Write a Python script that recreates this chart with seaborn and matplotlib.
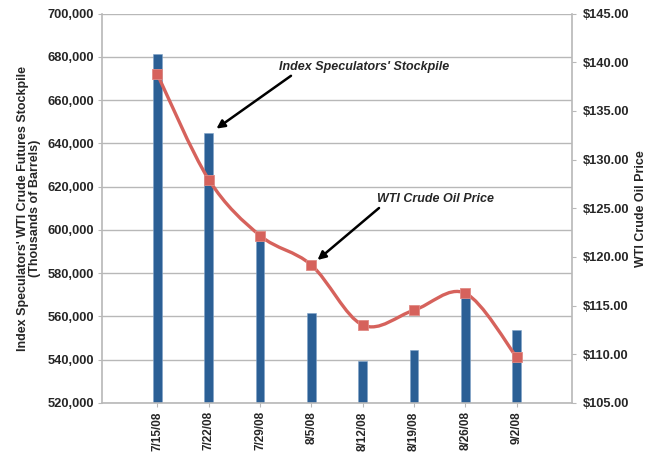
import numpy as np
import pandas as pd
import matplotlib
matplotlib.use("Agg")
import matplotlib.pyplot as plt
from matplotlib.path import Path
from matplotlib.patches import PathPatch
from matplotlib.ticker import FuncFormatter
import seaborn as sns

# data
dates = ["7/15/08", "7/22/08", "7/29/08", "8/5/08", "8/12/08", "8/19/08", "8/26/08", "9/2/08"]
stockpile = [681500, 644800, 597500, 561700, 539500, 544400, 570500, 553700]
wti_price = [138.74, 127.95, 122.19, 119.17, 113.01, 114.53, 116.27, 109.71]

bar_color = "#2B5F95"
line_color = "#D6625C"
grid_color = "#B8B8B8"

sns.set_style("white")
plt.rcParams["font.family"] = ["Liberation Sans", "DejaVu Sans"]

df = pd.DataFrame({"date": dates, "stockpile": stockpile, "price": wti_price})
df["pos"] = np.arange(len(df))

fig = plt.figure(figsize=(6.51, 4.55), dpi=100)
ax = fig.add_axes([0.1567, 0.1143, 0.7220, 0.8560])

# bars on native numeric positions so limits can be set freely
sns.barplot(data=df, x="pos", y="stockpile", native_scale=True, width=0.17,
            color=bar_color, saturation=1, edgecolor="#7FA3C8", linewidth=0.4, ax=ax)
ax.set_ylim(520000, 700000)
ax.set_xlim(-1.08, 8.08)
ax.set_yticks(np.arange(520000, 700001, 20000))
ax.yaxis.set_major_formatter(FuncFormatter(lambda v, p: f"{int(v):,}"))
ax.set_xticks(df["pos"])
ax.set_xticklabels(dates, rotation=90, fontweight="bold", fontsize=8.5)
ax.grid(axis="y", color=grid_color, linewidth=1)
ax.set_axisbelow(True)
for t in ax.get_yticklabels():
    t.set_fontweight("bold")
    t.set_fontsize(9.3)
ax.tick_params(axis="both", length=3, color=grid_color, pad=3)
ax.tick_params(axis="y", left=True)
ax.tick_params(axis="x", bottom=True, pad=3)
ax.set_xlabel("")
ax.set_ylabel("Index Speculators' WTI Crude Futures Stockpile\n(Thousands of Barrels)",
              fontweight="bold", fontsize=9, labelpad=4, linespacing=1.0)
for side in ["left", "bottom"]:
    ax.spines[side].set_color(grid_color)
    ax.spines[side].set_linewidth(1.2)
ax.spines["top"].set_visible(False)
ax.spines["right"].set_visible(False)

ax2 = ax.twinx()
ax2.set_ylim(105, 145)
ax2.set_yticks(np.arange(105, 145.1, 5))
ax2.yaxis.set_major_formatter(FuncFormatter(lambda v, p: f"${v:.2f}"))
for t in ax2.get_yticklabels():
    t.set_fontweight("bold")
    t.set_fontsize(9.3)
ax2.tick_params(axis="y", right=True, length=3, color=grid_color, pad=5)
for side in ["left", "top", "bottom"]:
    ax2.spines[side].set_visible(False)
ax2.spines["right"].set_color(grid_color)
ax2.spines["right"].set_linewidth(1.2)
ax2.set_ylabel("WTI Crude Oil Price", fontweight="bold", fontsize=9, labelpad=4)

# smoothed line: cubic bezier segments through the points (Catmull-Rom style)
xs = df["pos"].to_numpy(dtype=float)
ys = df["price"].to_numpy(dtype=float)
verts = [(xs[0], ys[0])]
codes = [Path.MOVETO]
n = len(xs)
for i in range(n - 1):
    p0 = (xs[max(i - 1, 0)], ys[max(i - 1, 0)])
    p1 = (xs[i], ys[i])
    p2 = (xs[i + 1], ys[i + 1])
    p3 = (xs[min(i + 2, n - 1)], ys[min(i + 2, n - 1)])
    c1 = (p1[0] + (p2[0] - p0[0]) / 6, p1[1] + (p2[1] - p0[1]) / 6)
    c2 = (p2[0] - (p3[0] - p1[0]) / 6, p2[1] - (p3[1] - p1[1]) / 6)
    verts += [c1, c2, p2]
    codes += [Path.CURVE4] * 3
ax2.add_patch(PathPatch(Path(verts, codes), fill=False, edgecolor=line_color, linewidth=2.4,
                        capstyle="round", joinstyle="round"))
sns.scatterplot(data=df, x="pos", y="price", marker="s", s=60, color=line_color,
                edgecolor="#E08A85", linewidth=0.6, ax=ax2, zorder=5, legend=False)
ax2.set_xlabel("")

# annotations
ax.annotate("Index Speculators' Stockpile", xy=(1.15, 646800), xytext=(4.02, 675500),
            fontsize=9, fontweight="bold", fontstyle="italic", ha="center", va="center",
            arrowprops=dict(arrowstyle="-|>", color="black", lw=1.8, mutation_scale=12,
                            shrinkA=0, shrinkB=0, relpos=(0.1, 0.0)),
            zorder=10)
ax.annotate("WTI Crude Oil Price", xy=(3.12, 586100), xytext=(5.42, 614400),
            fontsize=9, fontweight="bold", fontstyle="italic", ha="center", va="center",
            arrowprops=dict(arrowstyle="-|>", color="black", lw=1.8, mutation_scale=12,
                            shrinkA=0, shrinkB=0, relpos=(0.05, 0.0)),
            zorder=10)

fig.savefig("out.png", dpi=100)
